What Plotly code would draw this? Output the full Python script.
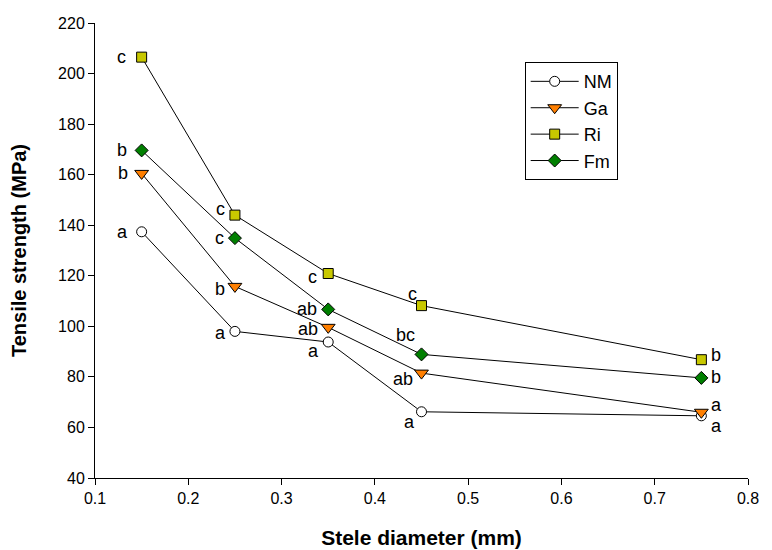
import plotly.graph_objects as go

diameter = [0.15, 0.25, 0.35, 0.45, 0.75]

nm = [137.4, 98.0, 93.8, 66.2, 64.6]
ga = [160.5, 115.8, 99.6, 81.5, 66.0]
ri = [206.5, 144.0, 120.9, 108.2, 86.8]
fm = [169.6, 134.9, 106.7, 88.9, 79.6]

nm_letters = ["a", "a", "a", "a", "a"]
ga_letters = ["b", "b", "ab", "ab", "a"]
ri_letters = ["c", "c", "c", "c", "b"]
fm_letters = ["b", "c", "ab", "bc", "b"]

# pixel offsets (dx, dy-down) for letter labels, per point
nm_off = [(-19, 0), (-14, 2), (-15, 9), (-12, 10), (15, 10)]
ga_off = [(-19, 0), (-15, 3), (-20, 2), (-19, 6), (15, -7)]
ri_off = [(-20, 0), (-14, -6), (-16, 3), (-9, -12), (15, -5)]
fm_off = [(-20, 0), (-15, 0), (-21, 0), (-16, -19), (15, -1)]

FONT = "Liberation Sans, Arial, sans-serif"

fig = go.Figure()

series = [
    ("NM", nm, dict(symbol="circle", size=10, color="white", line=dict(color="black", width=1))),
    ("Ga", ga, dict(symbol="triangle-down", size=12, color="#FF7F00", line=dict(color="black", width=1))),
    ("Ri", ri, dict(symbol="square", size=10, color="#C8C800", line=dict(color="black", width=1))),
    ("Fm", fm, dict(symbol="diamond", size=10, color="#007F00", line=dict(color="black", width=1))),
]

for name, vals, mk in series:
    fig.add_trace(go.Scatter(
        x=diameter, y=vals, name=name, mode="lines+markers",
        line=dict(color="black", width=1), marker=mk,
    ))

for vals, letters, offs in [(nm, nm_letters, nm_off), (ga, ga_letters, ga_off),
                            (ri, ri_letters, ri_off), (fm, fm_letters, fm_off)]:
    for xv, yv, lab, (dx, dy) in zip(diameter, vals, letters, offs):
        fig.add_annotation(
            x=xv, y=yv, xref="x", yref="y", text=lab, showarrow=False,
            xshift=dx, yshift=-dy, font=dict(family=FONT, size=18, color="black"),
        )

fig.update_layout(
    width=772, height=550,
    margin=dict(l=95, r=24, t=23, b=72),
    paper_bgcolor="white", plot_bgcolor="white",
    font=dict(family=FONT, size=16, color="black"),
    showlegend=True,
    legend=dict(
        x=0.658, y=0.914, xanchor="left", yanchor="top",
        bordercolor="black", borderwidth=1, bgcolor="white",
        font=dict(family=FONT, size=18, color="black"),
        tracegroupgap=0, itemwidth=48,
    ),
    xaxis=dict(
        range=[0.1, 0.8], tickmode="array",
        tickvals=[0.1, 0.2, 0.3, 0.4, 0.5, 0.6, 0.7, 0.8],
        ticktext=["0.1", "0.2", "0.3", "0.4", "0.5", "0.6", "0.7", "0.8"],
        showline=True, linecolor="black", linewidth=1,
        ticks="outside", ticklen=6, tickcolor="black",
        showgrid=False, zeroline=False, automargin=False,
        title=dict(text="<b>Stele diameter (mm)</b>", font=dict(family=FONT, size=21), standoff=24),
    ),
    yaxis=dict(
        range=[40, 220], tickmode="array",
        tickvals=[40, 60, 80, 100, 120, 140, 160, 180, 200, 220],
        showline=True, linecolor="black", linewidth=1,
        ticks="outside", ticklen=6, tickcolor="black",
        showgrid=False, zeroline=False, automargin=False,
        title=dict(text="<b>Tensile strength (MPa)</b>", font=dict(family=FONT, size=20), standoff=26),
    ),
)

fig.write_html("out.html")
